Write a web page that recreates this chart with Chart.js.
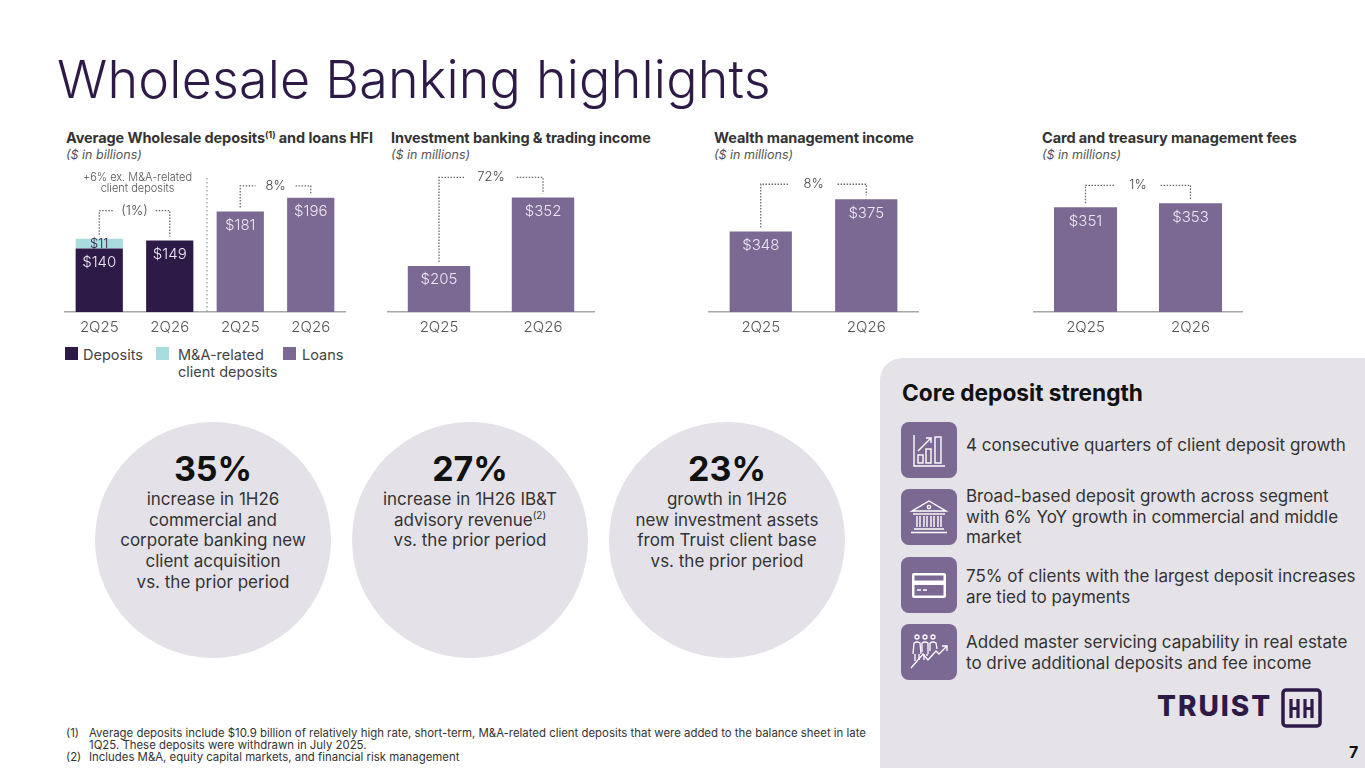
<!DOCTYPE html>
<html><head><meta charset="utf-8">
<script src="https://cdn.jsdelivr.net/npm/chart.js@4.4.1/dist/chart.umd.min.js"></script>
<style>
body{margin:0;width:1365px;height:768px;position:relative;overflow:hidden;background:#fff;font-family:Inter,'Open Sans',sans-serif;color:#333}
.abs{position:absolute}
h1{position:absolute;left:57px;top:50px;margin:0;font-weight:300;font-size:52px;color:#2e1a47;line-height:60px;white-space:nowrap;letter-spacing:0.2px}
.ct{position:absolute;top:129px;font-weight:700;font-size:14.5px;color:#333;white-space:nowrap;line-height:18px;letter-spacing:-0.1px}
.ct sup{font-size:9px;line-height:0;vertical-align:5px}
.cs{position:absolute;top:147px;font-style:italic;font-size:12.5px;color:#555;line-height:16px;white-space:nowrap}
.cv{position:absolute;top:160px;height:182px}
.lg{position:absolute;top:347px;width:13px;height:13px}
.lt{position:absolute;top:346px;font-size:14.5px;line-height:17px;color:#444;white-space:nowrap}
.circ{position:absolute;top:422px;width:236px;height:236px;border-radius:50%;background:#e4e2e8}
.circ .big{position:absolute;left:0;right:0;top:27px;text-align:center;font-weight:700;font-size:34px;line-height:40px;color:#111}
.circ .txt{position:absolute;left:0;right:0;top:67px;text-align:center;font-size:17px;line-height:20.7px;color:#333;white-space:nowrap}
.circ sup{font-size:10px;line-height:0;vertical-align:7px}
.panel{position:absolute;left:880px;top:358px;width:485px;height:410px;background:#e5e3e8;border-top-left-radius:22px}
.ph{position:absolute;left:902px;top:379px;font-weight:700;font-size:22.7px;line-height:28px;color:#111;white-space:nowrap}
.ic{position:absolute;left:901px;width:56px;height:56px}
.it{position:absolute;left:966px;font-size:17px;line-height:20.5px;color:#333;white-space:nowrap}
.fn{position:absolute;left:66px;top:727px;font-size:11.4px;line-height:12px;color:#333}
.fn div{white-space:nowrap}
.fn span{display:inline-block;width:23px}
</style></head><body>
<h1>Wholesale Banking highlights</h1>

<div class="ct" style="left:66px">Average Wholesale deposits<sup>(1)</sup> and loans HFI</div>
<div class="cs" style="left:66px">($ in billions)</div>
<div class="ct" style="left:391px">Investment banking &amp; trading income</div>
<div class="cs" style="left:391px">($ in millions)</div>
<div class="ct" style="left:714px">Wealth management income</div>
<div class="cs" style="left:714px">($ in millions)</div>
<div class="ct" style="left:1042px">Card and treasury management fees</div>
<div class="cs" style="left:1042px">($ in millions)</div>

<div class="cv" style="left:64px;width:282px"><canvas id="c1"></canvas></div>
<div class="cv" style="left:387px;width:208px"><canvas id="c2"></canvas></div>
<div class="cv" style="left:708px;width:211px"><canvas id="c3"></canvas></div>
<div class="cv" style="left:1033px;width:210px"><canvas id="c4"></canvas></div>

<div id="legend"></div>

<div class="circ" style="left:95px"><div class="big">35%</div><div class="txt">increase in 1H26<br>commercial and<br>corporate banking new<br>client acquisition<br>vs. the prior period</div></div>
<div class="circ" style="left:352px"><div class="big">27%</div><div class="txt">increase in 1H26 IB&amp;T<br>advisory revenue<sup>(2)</sup><br>vs. the prior period</div></div>
<div class="circ" style="left:609px"><div class="big">23%</div><div class="txt">growth in 1H26<br>new investment assets<br>from Truist client base<br>vs. the prior period</div></div>

<div class="panel"></div>
<div class="ph">Core deposit strength</div>

<svg class="ic" style="top:422px" viewBox="0 0 56 56"><rect width="56" height="56" rx="8" fill="#7b6893"/><g stroke="#fff" stroke-width="1.4" fill="none"><path d="M13 13 V44 H44"/><rect x="17" y="33" width="5" height="8"/><rect x="25" y="27" width="5" height="14"/><rect x="34" y="15" width="6" height="26"/><path d="M17 29 L30 16"/><path d="M25 16 H30 V21"/></g></svg>
<svg class="ic" style="top:489px" viewBox="0 0 56 56"><rect width="56" height="56" rx="8" fill="#7b6893"/><g stroke="#fff" stroke-width="1.4" fill="none"><path d="M11 22 L28 12 L45 22 Z"/><circle cx="28" cy="18" r="1.6"/><path d="M12 25 H44"/><path d="M16 27 V38 M19 27 V38 M23 27 V38 M26 27 V38 M30 27 V38 M33 27 V38 M37 27 V38 M40 27 V38"/><path d="M13 40 H43 M10 43.5 H46"/></g></svg>
<svg class="ic" style="top:557px" viewBox="0 0 56 56"><rect width="56" height="56" rx="8" fill="#7b6893"/><g fill="#fff"><rect x="11" y="16" width="34" height="25" rx="2"/></g><rect x="13.5" y="18.5" width="29" height="5" fill="#7b6893"/><rect x="13.5" y="28" width="29" height="10.5" fill="#7b6893"/><path d="M16 33 H20 M22 33 H26" stroke="#fff" stroke-width="1.6"/></svg>
<svg class="ic" style="top:624px" viewBox="0 0 56 56"><rect width="56" height="56" rx="8" fill="#7b6893"/><g stroke="#fff" stroke-width="1.3" fill="none"><circle cx="16" cy="13" r="2"/><circle cx="24" cy="13" r="2"/><circle cx="32" cy="13" r="2"/><path d="M12 30 L13 19 Q16 17 19 19 L20 30 M14 30 V37 M18 30 V36"/><path d="M21 28 L21 19 Q24 17 27 19 L27 30 M23 30 V36 M26 30 V32"/><path d="M29 27 L29 19 Q32 17 35 19 L36 25"/><path d="M10 44 L22 30 L27 36 L35 27 L38 30 L46 22"/><path d="M41 22 H46 V27"/></g></svg>

<div class="it" style="top:435px">4 consecutive quarters of client deposit growth</div>
<div class="it" style="top:486px">Broad-based deposit growth across segment<br>with 6% YoY growth in commercial and middle<br>market</div>
<div class="it" style="top:566px">75% of clients with the largest deposit increases<br>are tied to payments</div>
<div class="it" style="top:632px">Added master servicing capability in real estate<br>to drive additional deposits and fee income</div>

<div class="abs" style="left:1157px;top:690px;font-size:28px;font-weight:800;letter-spacing:2px;color:#2e1a47;line-height:32px">TRUIST</div>
<svg class="abs" style="left:1281px;top:688px" width="41" height="40" viewBox="0 0 41 40"><rect x="2" y="2" width="37" height="36" rx="3" fill="none" stroke="#2e1a47" stroke-width="3.5"/><path d="M10 11 V30 M17 11 V30 M24 11 V30 M31 11 V30 M10 20.5 H17 M24 20.5 H31" stroke="#2e1a47" stroke-width="3.2"/></svg>
<div class="abs" style="left:1349px;top:742px;font-size:16px;font-weight:700;color:#111;line-height:20px">7</div>

<div class="fn">
<div><span>(1)</span>Average deposits include $10.9 billion of relatively high rate, short-term, M&amp;A-related client deposits that were added to the balance sheet in late</div>
<div><span></span>1Q25. These deposits were withdrawn in July 2025.</div>
<div><span>(2)</span>Includes M&amp;A, equity capital markets, and financial risk management</div>
</div>

<script>
// ---------- data ----------
const depCategories = ['2Q25', '2Q26', '2Q25', '2Q26'];
const depositsValues = [140, 149, null, null];
const maRelatedValues = [11, null, null, null];
const loansValues = [null, null, 181, 196];
const depChanges = ['(1%)', '8%'];
const depNote = ['+6% ex. M&A-related', 'client deposits'];

const quarterCategories = ['2Q25', '2Q26'];
const ibtValues = [205, 352];
const ibtChange = '72%';
const wealthValues = [348, 375];
const wealthChange = '8%';
const cardValues = [351, 353];
const cardChange = '1%';

const legendItems = ['Deposits', 'M&A-related\nclient deposits', 'Loans'];

// ---------- style ----------
const C_DEP = '#2e1a47', C_MA = '#a9dcdf', C_LOAN = '#7b6893';
const LABEL_LIGHT = '#ece6f4', LABEL_DARK = '#2e1a47';
const FONT = 'Inter';

(function(){
  const L = document.getElementById('legend');
  const cols = [C_DEP, C_MA, C_LOAN];
  const sq = [65, 156, 283], tx = [83, 178, 302];
  legendItems.forEach((t, i) => {
    const s = document.createElement('div'); s.className = 'lg'; s.style.left = sq[i] + 'px'; s.style.background = cols[i]; L.appendChild(s);
    const d = document.createElement('div'); d.className = 'lt'; d.style.left = tx[i] + 'px'; d.innerHTML = t.replace(/&/g,'&amp;').replace('\n', '<br>'); L.appendChild(d);
  });
})();

const annot = {
  id: 'annot',
  afterDatasetsDraw(chart) {
    const o = chart.options.plugins.annot || {};
    const ctx = chart.ctx;
    const x = chart.scales.x;
    const topAt = i => {
      let t = Infinity;
      chart.data.datasets.forEach((d, k) => { if (d.data[i] != null) t = Math.min(t, chart.getDatasetMeta(k).data[i].y); });
      return t;
    };
    ctx.save();
    chart.data.datasets.forEach((ds, k) => {
      const meta = chart.getDatasetMeta(k);
      ds.data.forEach((v, i) => {
        if (v == null) return;
        const el = meta.data[i];
        ctx.font = '300 ' + (ds.labelSize || 15) + 'px ' + FONT;
        ctx.fillStyle = ds.labelColor || LABEL_LIGHT;
        ctx.textAlign = 'center'; ctx.textBaseline = 'middle';
        const y = ds.labelPos === 'center' ? (el.y + el.base) / 2 + 0.5 : el.y + 14;
        ctx.fillText('$' + v, el.x, y);
      });
    });
    if (o.separatorAfter != null) {
      const sx = (x.getPixelForValue(o.separatorAfter) + x.getPixelForValue(o.separatorAfter + 1)) / 2 + 2;
      ctx.setLineDash([1.5, 2.5]); ctx.strokeStyle = '#9a9a9a'; ctx.lineWidth = 1.3;
      ctx.beginPath(); ctx.moveTo(sx, chart.chartArea.top + 18); ctx.lineTo(sx, chart.chartArea.bottom); ctx.stroke();
    }
    (o.brackets || []).forEach(b => {
      const x1 = x.getPixelForValue(b.i), x2 = x.getPixelForValue(b.j);
      const t1 = topAt(b.i), t2 = topAt(b.j);
      const by = Math.min(t1, t2) - b.lift;
      const mid = (x1 + x2) / 2;
      ctx.font = '300 13px ' + FONT;
      const tw = ctx.measureText(b.text).width;
      ctx.setLineDash([1.5, 1.5]); ctx.strokeStyle = '#6a6a6a'; ctx.lineWidth = 1.3;
      ctx.beginPath();
      ctx.moveTo(x1, t1 - 4); ctx.lineTo(x1, by); ctx.lineTo(Math.max(x1, mid - tw / 2 - b.gap), by);
      ctx.moveTo(Math.min(x2, mid + tw / 2 + b.gap), by); ctx.lineTo(x2, by); ctx.lineTo(x2, t2 - 4);
      ctx.stroke();
      ctx.setLineDash([]);
      ctx.fillStyle = '#444'; ctx.textAlign = 'center'; ctx.textBaseline = 'middle';
      ctx.fillText(b.text, mid, by);
      if (b.note) {
        ctx.font = '300 11px ' + FONT; ctx.fillStyle = '#555';
        b.note.forEach((ln, n) => ctx.fillText(ln, mid + 3, by - 33 + n * 11));
      }
    });
    ctx.restore();
  }
};

function makeChart(id, labels, datasets, yMin, yMax, barPct, annotOpts) {
  return new Chart(document.getElementById(id), {
    type: 'bar',
    data: { labels, datasets },
    plugins: [annot],
    options: {
      responsive: true, maintainAspectRatio: false, animation: false,
      layout: { padding: 0 },
      datasets: { bar: { categoryPercentage: 1, barPercentage: barPct } },
      plugins: { legend: { display: false }, tooltip: { enabled: false }, annot: annotOpts },
      scales: {
        x: { stacked: true, grid: { display: false, drawTicks: false },
             border: { display: true, color: '#a8a8a8', width: 1.5 },
             ticks: { color: '#555', font: { family: FONT, size: 15, weight: '300' }, padding: 6 } },
        y: { stacked: true, display: false, min: yMin, max: yMax }
      }
    }
  });
}

makeChart('c1', depCategories, [
  { label: 'Deposits', data: depositsValues, backgroundColor: C_DEP },
  { label: 'M&A-related client deposits', data: maRelatedValues, backgroundColor: C_MA, labelColor: LABEL_DARK, labelPos: 'center', labelSize: 13 },
  { label: 'Loans', data: loansValues, backgroundColor: C_LOAN }
], 70, 237.8, 0.67, {
  separatorAfter: 1,
  brackets: [
    { i: 0, j: 1, text: depChanges[0], lift: 28, gap: 8, note: depNote },
    { i: 2, j: 3, text: depChanges[1], lift: 12, gap: 10 }
  ]
});

makeChart('c2', quarterCategories, [
  { label: 'IB&T', data: ibtValues, backgroundColor: C_LOAN }
], 106, 432.4, 0.6, { brackets: [{ i: 0, j: 1, text: ibtChange, lift: 20, gap: 12 }] });

makeChart('c3', quarterCategories, [
  { label: 'Wealth', data: wealthValues, backgroundColor: C_LOAN }
], 280.5, 407.9, 0.59, { brackets: [{ i: 0, j: 1, text: wealthChange, lift: 15, gap: 14 }] });

makeChart('c4', quarterCategories, [
  { label: 'Card', data: cardValues, backgroundColor: C_LOAN }
], 299, 374.5, 0.6, { brackets: [{ i: 0, j: 1, text: cardChange, lift: 18, gap: 14 }] });
</script>
</body></html>
